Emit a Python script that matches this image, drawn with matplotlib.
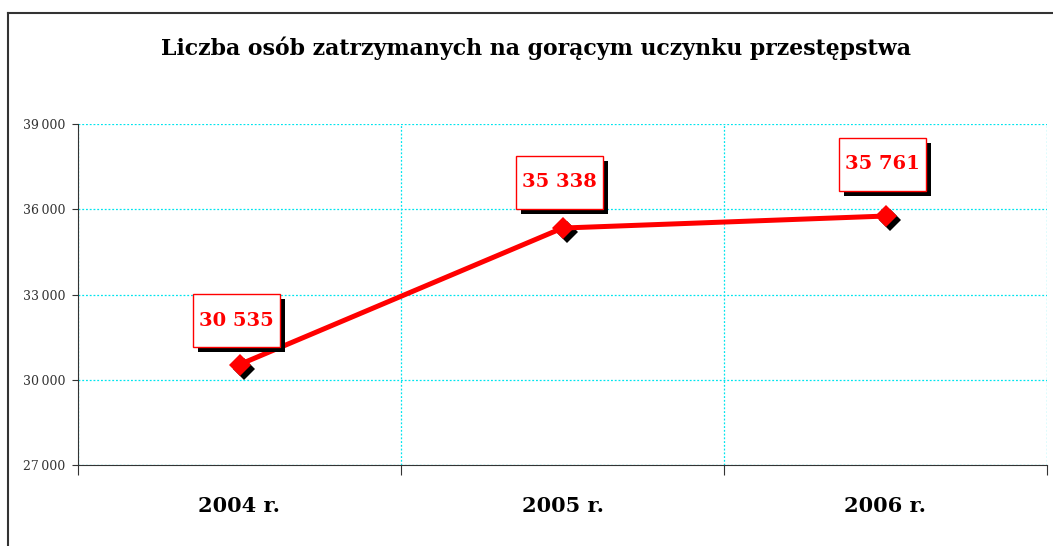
import matplotlib
matplotlib.use("Agg")
import matplotlib.pyplot as plt
from matplotlib.patches import Rectangle
from matplotlib.lines import Line2D
from matplotlib import transforms

# dane
years = ["2004 r.", "2005 r.", "2006 r."]
values = [30535, 35338, 35761]
value_labels = ["30 535", "35 338", "35 761"]
yticks = [27000, 30000, 33000, 36000, 39000]
ytick_labels = ["27\u2009000", "30\u2009000", "33\u2009000", "36\u2009000", "39\u2009000"]
title = "Liczba osób zatrzymanych na gorącym uczynku przestępstwa"

# przesuniecie etykiet nad punktem (piksele)
label_dy = [44, 46, 52]

serif = "DejaVu Serif"
red = "#ff0000"

fig = plt.figure(figsize=(10.53, 5.46), dpi=100)
ax = fig.add_axes([78 / 1053, 1 - 465 / 546, (1047 - 78) / 1053, (465 - 124) / 546])

x = list(range(len(years)))

# cien markerow
shadow = transforms.offset_copy(ax.transData, fig=fig, x=4, y=-4, units="dots")
ax.plot(x, values, linestyle="none", marker="D", markersize=11, color="black",
        markeredgewidth=0, transform=shadow, zorder=3)
ax.plot(x, values, color=red, linewidth=3.6, marker="D", markersize=11,
        markeredgewidth=0, zorder=4)

ax.set_xlim(-0.5, 2.5)
ax.set_ylim(27000, 39000)
ax.set_yticks(yticks)
ax.set_yticklabels(ytick_labels, fontsize=9, family=serif, color="#333333")
ax.set_xticks([-0.5, 0.5, 1.5, 2.5])
ax.set_xticklabels([])
ax.set_xticks(x, minor=True)
ax.set_xticklabels(years, minor=True, fontsize=15, fontweight="bold", family=serif)
ax.tick_params(axis="x", which="minor", length=0, pad=22)
ax.tick_params(axis="x", which="major", length=7, color="#333333")
ax.tick_params(axis="y", length=4, color="#333333", pad=5)

ax.grid(True, color="#00e5ee", linestyle=(0, (1.5, 1.5)), linewidth=0.9)
ax.spines["top"].set_visible(False)
ax.spines["right"].set_visible(False)
ax.spines["left"].set_color("#333333")
ax.spines["bottom"].set_color("#333333")
for s in ["left", "bottom"]:
    ax.spines[s].set_zorder(5)

# etykiety wartosci w ramkach z cieniem
bw, bh = 87, 53
for xi, v, lab, dy in zip(x, values, value_labels, label_dy):
    tr = transforms.Affine2D() + transforms.ScaledTranslation(xi, v, ax.transData)
    cx, cy = -3, dy
    ax.add_patch(Rectangle((cx - bw / 2 + 5, cy - bh / 2 - 5), bw, bh, transform=tr,
                           facecolor="black", edgecolor="none", zorder=6, clip_on=False))
    ax.add_patch(Rectangle((cx - bw / 2, cy - bh / 2), bw, bh, transform=tr,
                           facecolor="white", edgecolor=red, linewidth=1, zorder=7,
                           clip_on=False))
    ax.text(cx, cy, lab, transform=tr, ha="center", va="center", color=red,
            fontsize=14, fontweight="bold", family=serif, zorder=8)

fig.text(536 / 1053, 1 - 48 / 546, title, ha="center", va="center",
         fontsize=15.8, fontweight="bold", family=serif)

# ramka wykresu (gora i lewa krawedz)
fig.add_artist(Line2D([8 / 1053, 1], [1 - 13 / 546, 1 - 13 / 546],
                      transform=fig.transFigure, color="#333333", linewidth=1.5))
fig.add_artist(Line2D([8 / 1053, 8 / 1053], [0, 1 - 13 / 546],
                      transform=fig.transFigure, color="#333333", linewidth=1.5))

fig.savefig("out.png", dpi=100)
